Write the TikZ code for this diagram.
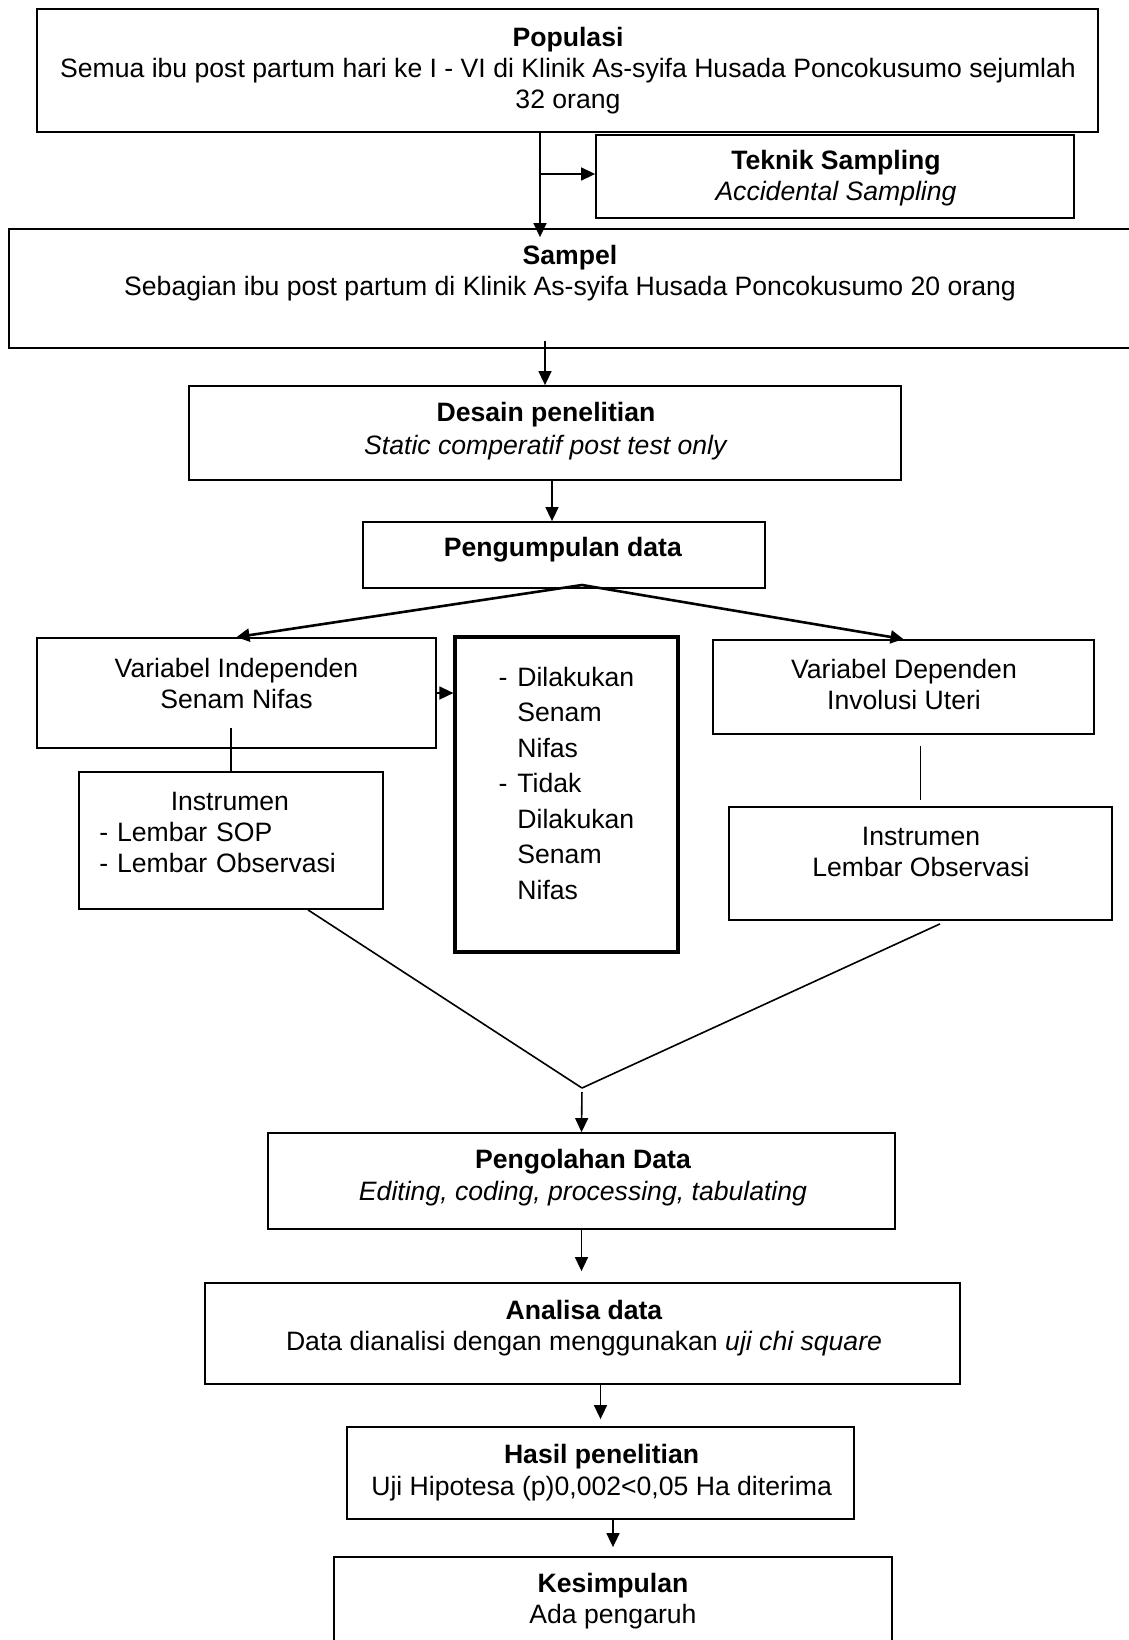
\documentclass[tikz,border=0pt]{standalone}
\usepackage{fontspec}
\setmainfont{Liberation Sans}
\usetikzlibrary{positioning,arrows.meta}
\tikzset{
  box/.style={draw, line width=0.9pt, inner sep=0pt},
  thickbox/.style={draw, line width=1.6pt, inner sep=0pt},
  txt/.style={align=center, inner sep=0pt, yshift=-1.3pt, font=\fontsize{13.3}{15.5}\selectfont},
  link/.style={line width=0.8pt},
  arr/.style={link, -{Triangle[length=7pt,width=6.5pt]}},
  fork/.style={line width=1.3pt, -{Triangle[length=6.5pt,width=6.5pt]}},
}

\begin{document}
\begin{tikzpicture}[x=1pt,y=-1pt]
  \useasboundingbox (0,0) rectangle (564.5,820);

  % boxes
  \node[box, minimum width=530.5pt, minimum height=61.5pt] (pop) at (283.75,35.25) {};
  \node[box, minimum width=239pt, minimum height=41.5pt] (teknik) at (417.5,88.25) {};
  \node[box, minimum width=565.7pt, minimum height=59.5pt] (sampel) at (287.15,144.25) {};
  \node[box, minimum width=356pt, minimum height=47pt] (desain) at (272.5,216.5) {};
  \node[box, minimum width=201pt, minimum height=33pt] (kumpul) at (282,277.5) {};
  \node[box, minimum width=199.5pt, minimum height=55pt] (indep) at (118.25,346.5) {};
  \node[thickbox, minimum width=111.5pt, minimum height=157.5pt] (perlakuan) at (283.25,397.25) {};
  \node[box, minimum width=190.5pt, minimum height=47pt] (depen) at (451.75,343.5) {};
  \node[box, minimum width=152pt, minimum height=68.5pt] (instr1) at (115.5,420.25) {};
  \node[box, minimum width=191.5pt, minimum height=56.5pt] (instr2) at (460.25,431.75) {};
  \node[box, minimum width=313.5pt, minimum height=48pt] (olah) at (290.75,590.5) {};
  \node[box, minimum width=377.5pt, minimum height=50.5pt] (analisa) at (291.25,666.75) {};
  \node[box, minimum width=253.5pt, minimum height=46pt] (hasil) at (300.25,736.5) {};
  \node[box, minimum width=279pt, minimum height=51.5pt] (simpul) at (306.5,804.25) {};

  % texts
  \node[txt] (pop-t) at (284,34) {\textbf{Populasi}\\Semua ibu post partum hari ke I - VI di Klinik As-syifa Husada Poncokusumo sejumlah\\32 orang};
  \node[txt] (teknik-t) at (418,88) {\textbf{Teknik Sampling}\\\textit{Accidental Sampling}};
  \node[txt] (sampel-t) at (285,135.25) {\textbf{Sampel}\\Sebagian ibu post partum di Klinik As-syifa Husada Poncokusumo 20 orang};
  \node[txt, font=\fontsize{13.3}{16.5}\selectfont] (desain-t) at (273,214.25) {\textbf{Desain penelitian}\\\textit{Static comperatif post test only}};
  \node[txt] (kumpul-t) at (281.5,273.5) {\textbf{Pengumpulan data}};
  \node[txt] (indep-t) at (118.25,340.25) {Variabel Independen\\Senam Nifas};
  \node[txt, align=left, anchor=west, font=\fontsize{13.3}{17.75}\selectfont] (perlakuan-t) at (258.5,390.25)
    {\llap{-\hspace{5pt}}Dilakukan\\Senam\\Nifas\\\llap{-\hspace{5pt}}Tidak\\Dilakukan\\Senam\\Nifas};
  \node[txt] (depen-t) at (452,341) {Variabel Dependen\\Involusi Uteri};
  \node[txt, align=left, text width=130.5pt] (instr1-t) at (114.95,414.75) {\makebox[130.5pt]{Instrumen}\\- Lembar SOP\\- Lembar Observasi};
  \node[txt] (instr2-t) at (460.5,424.5) {Instrumen\\Lembar Observasi};
  \node[txt, font=\fontsize{13.3}{16}\selectfont] (olah-t) at (291.5,587.5) {\textbf{Pengolahan Data}\\\textit{Editing, coding, processing, tabulating}};
  \node[txt] (analisa-t) at (292,662.75) {\textbf{Analisa data}\\Data dianalisi dengan menggunakan \textit{uji chi square}};
  \node[txt, font=\fontsize{13.3}{16}\selectfont] (hasil-t) at (300.8,735) {\textbf{Hasil penelitian}\\Uji Hipotesa (p)0,002<0,05 Ha diterima};
  \node[txt] (simpul-t) at (306.5,799.25) {\textbf{Kesimpulan}\\Ada pengaruh};

  % connectors
  \coordinate (split) at (270,87);
  \coordinate (fork) at (291,292.5);
  \coordinate (vjoin) at (291,544);

  \draw[arr] (pop.south -| split) -- ([yshift=-4.5pt]sampel.north -| split);
  \draw[arr] (split) -- (split -| teknik.west);
  \draw[arr] ([yshift=4pt]sampel.south -| desain.north) -- (desain.north);
  \draw[arr] ([xshift=3.5pt]desain.south) -- ([xshift=3.5pt]desain.south |- kumpul.north);
  \draw[fork] (fork) -- (indep.north);
  \draw[fork] (fork) -- (depen.north);
  \draw[arr] (indep.east) -- (indep.east -| perlakuan.west);
  \draw[link] ([yshift=10.5pt]indep.south -| instr1.north) -- (instr1.north);
  \draw[link] ([yshift=-5.5pt]depen.south -| instr2.north) -- ([yshift=3pt]instr2.north);
  \draw[link] ([xshift=38.5pt]instr1.south) -- (vjoin);
  \draw[link] ([xshift=9.75pt,yshift=-1.5pt]instr2.south) -- (vjoin);
  \draw[arr, shorten <=2pt] (vjoin) -- (olah.north);
  \draw[arr, shorten >=5.5pt] (olah.south) -- (olah.south |- analisa.north);
  \draw[arr, shorten >=3.5pt] (analisa.south -| hasil.north) -- (hasil.north);
  \draw[arr, shorten >=4.5pt] (hasil.south -| simpul.north) -- (simpul.north);
\end{tikzpicture}
\end{document}
